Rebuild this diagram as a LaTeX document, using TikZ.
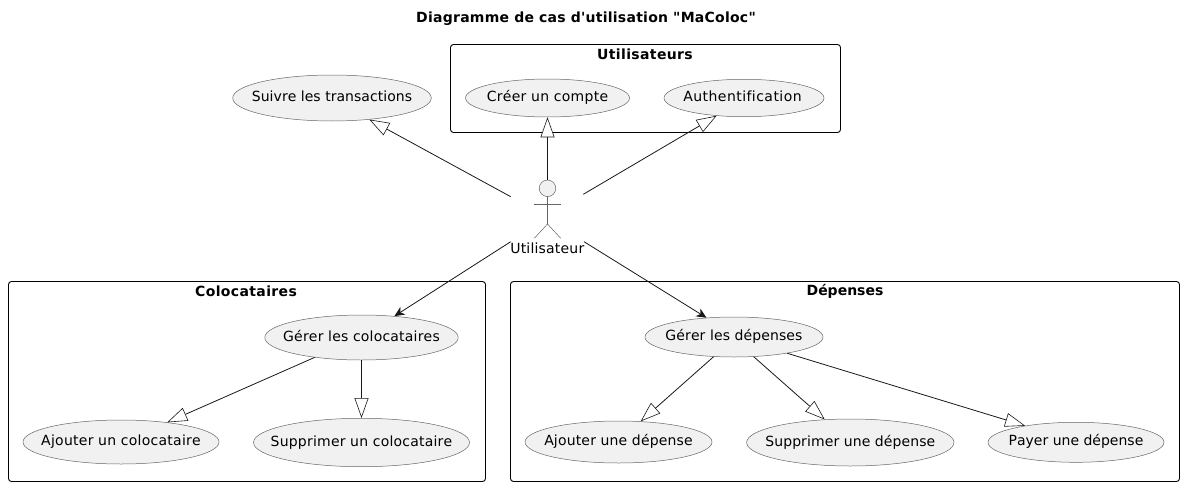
\documentclass[tikz,border=0pt]{standalone}
\usepackage{fontspec}
\newfontfamily\umlfont{DejaVu Sans}[Ligatures=NoCommon,Kerning=Off]
\usetikzlibrary{arrows.meta}
\usetikzlibrary{shapes.geometric}

\definecolor{ucfill}{HTML}{F1F1F1}
\definecolor{ucline}{HTML}{181818}
\definecolor{ucthin}{HTML}{666666}
\newcommand{\umltext}{\umlfont\fontsize{14}{16}\selectfont}
\newcommand{\spaced}[2]{{\addfontfeature{LetterSpace=#1}#2}}
\newcommand{\uctext}[2]{\makebox[0pt]{\spaced{#1}{#2}}}

\begin{document}
\begin{tikzpicture}[x=1pt,y=-1pt,
    usecase/.style={ellipse,draw=ucthin,line width=0.5pt,fill=ucfill,inner sep=0pt,
      font=\umltext,text height=10pt,text depth=3pt},
    pack/.style={draw=black,line width=0.9pt,rounded corners=3pt},
    packlabel/.style={font=\umltext\bfseries},
    actorline/.style={draw=ucthin,line width=0.5pt},
    gen/.style={draw=ucline,line width=0.8pt,-{Triangle[open,fill=white,length=20pt,width=14pt,line width=0.6pt]}},
    assoc/.style={draw=ucline,line width=0.8pt,-{Stealth[length=10pt,width=9pt,inset=3pt]}}]
        \useasboundingbox (0,0) rectangle (1185,487);
        \node[font=\umltext\bfseries] (title) at (586,19) {\spaced{1.8}{Diagramme de cas d'utilisation "MaColoc"}};
        %% The three packages.
        \draw[pack] (450.5,44.5) rectangle (840.5,132.5);
        \node[packlabel] (lblusers) at (645,54.5) {\spaced{2.6}{Utilisateurs}};
        \draw[pack] (8.5,281.5) rectangle (485.5,481.5);
        \node[packlabel] (lblcoloc) at (246,291.5) {\spaced{2.6}{Colocataires}};
        \draw[pack] (510.5,281.5) rectangle (1179.5,481.5);
        \node[packlabel] (lbldep) at (845,291.5) {Dépenses};
        %% The use cases.
        \node[usecase,minimum width=198.6pt,minimum height=46pt] (suivre) at (332,98) {\uctext{0.3}{Suivre les transactions}};
        \node[usecase,minimum width=164pt,minimum height=38pt] (creer) at (547.5,98) {\uctext{2}{Créer un compte}};
        \node[usecase,minimum width=160pt,minimum height=37.4pt] (auth) at (744,98) {\uctext{3.2}{Authentification\hspace{3pt}}};
        \node[usecase,minimum width=193.4pt,minimum height=45pt] (gcoloc) at (361.5,337.5) {\uctext{1.4}{Gérer les colocataires}};
        \node[usecase,minimum width=196pt,minimum height=44pt] (acoloc) at (121,442) {\uctext{1.8}{Ajouter un colocataire}};
        \node[usecase,minimum width=216pt,minimum height=48.4pt] (scoloc) at (361.5,442.5) {\uctext{1.5}{Supprimer un colocataire}};
        \node[usecase,minimum width=178pt,minimum height=40pt] (gdep) at (734,337) {\uctext{0.8}{Gérer les dépenses}};
        \node[usecase,minimum width=187pt,minimum height=42pt] (adep) at (618.5,442) {\uctext{1.2}{Ajouter une dépense}};
        \node[usecase,minimum width=207.4pt,minimum height=47pt] (sdep) at (850.3,442.5) {\uctext{0.7}{Supprimer une dépense}};
        \node[usecase,minimum width=176pt,minimum height=40pt] (pdep) at (1076,442.3) {\uctext{0}{Payer une dépense}};
        %% The actor.
        \node[circle,draw=ucthin,line width=0.5pt,fill=ucfill,minimum size=16.6pt,inner sep=0pt] (head) at (547.5,188.3) {};
        \coordinate (hip) at (547.5,224);
        \node[font=\umltext] (actor) at (547.3,248) {\spaced{1.4}{Utilisateur}};
        \draw[actorline] (head.south) -- (hip);
        \draw[actorline] (534.3,204.5) -- (560.7,204.5);
        \draw[actorline] (534.3,238.3) -- (hip) -- (560.7,238.3);
        \coordinate (upl) at (510.7,196.7);
        \coordinate (upr) at (583.3,194.3);
        \coordinate (downl) at (510.7,241.7);
        \coordinate (downr) at (584,241.7);
        %% The connectors.
        \draw[gen] (upl) -- (suivre.-30);
        \draw[gen] (head.north) -- (creer.south);
        \draw[gen] (upr) -- (auth.-147.6);
        \draw[assoc] (downl) -- (gcoloc.33.9);
        \draw[assoc] (downr) -- (gdep.145.8);
        \draw[gen] (gcoloc.203.4) -- (acoloc.23);
        \draw[gen] (gcoloc.south) -- (scoloc.north);
        \draw[gen] (gdep.-136.4) -- (adep.43);
        \draw[gen] (gdep.-45) -- (sdep.138.5);
        \draw[gen] (gdep.-17.4) -- (pdep.162);
      \end{tikzpicture}
\end{document}
